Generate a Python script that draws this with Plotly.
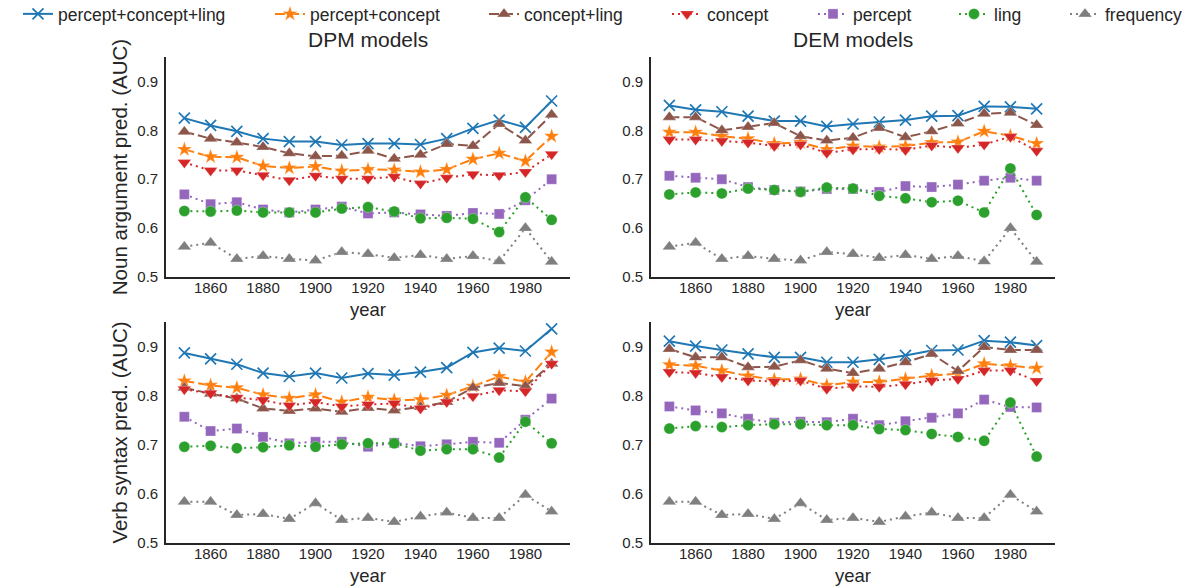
import plotly.graph_objects as go

years = list(range(1850, 2000, 10))

# ---- DPM models, noun argument prediction ----
dpm_noun_pcl = [0.825, 0.810, 0.798, 0.783, 0.777, 0.777, 0.770, 0.773, 0.773, 0.771, 0.783, 0.804, 0.821, 0.806, 0.860]
dpm_noun_pc = [0.761, 0.746, 0.745, 0.727, 0.723, 0.726, 0.717, 0.720, 0.719, 0.715, 0.720, 0.741, 0.753, 0.737, 0.788]
dpm_noun_cl = [0.797, 0.783, 0.775, 0.766, 0.753, 0.747, 0.748, 0.758, 0.742, 0.750, 0.772, 0.768, 0.813, 0.779, 0.832]
dpm_noun_concept = [0.734, 0.718, 0.718, 0.708, 0.698, 0.707, 0.701, 0.701, 0.705, 0.691, 0.703, 0.710, 0.708, 0.715, 0.751]
dpm_noun_percept = [0.669, 0.649, 0.653, 0.638, 0.632, 0.638, 0.644, 0.630, 0.632, 0.628, 0.625, 0.631, 0.629, 0.657, 0.700]
dpm_noun_ling = [0.635, 0.634, 0.636, 0.632, 0.632, 0.632, 0.640, 0.643, 0.634, 0.620, 0.621, 0.619, 0.592, 0.663, 0.617]

# ---- DEM models, noun argument prediction ----
dem_noun_pcl = [0.851, 0.842, 0.838, 0.829, 0.819, 0.819, 0.808, 0.813, 0.817, 0.821, 0.829, 0.830, 0.849, 0.848, 0.844]
dem_noun_pc = [0.796, 0.796, 0.788, 0.783, 0.773, 0.775, 0.761, 0.768, 0.766, 0.768, 0.775, 0.776, 0.798, 0.789, 0.773]
dem_noun_cl = [0.827, 0.827, 0.800, 0.807, 0.815, 0.788, 0.779, 0.785, 0.805, 0.786, 0.798, 0.814, 0.834, 0.836, 0.811]
dem_noun_concept = [0.781, 0.781, 0.778, 0.775, 0.768, 0.771, 0.754, 0.761, 0.762, 0.760, 0.769, 0.764, 0.771, 0.787, 0.758]
dem_noun_percept = [0.707, 0.703, 0.700, 0.684, 0.678, 0.675, 0.680, 0.680, 0.674, 0.686, 0.684, 0.689, 0.697, 0.703, 0.697]
dem_noun_ling = [0.669, 0.673, 0.671, 0.681, 0.678, 0.674, 0.683, 0.681, 0.666, 0.661, 0.653, 0.656, 0.632, 0.722, 0.627]

freq_noun = [0.562, 0.570, 0.537, 0.543, 0.537, 0.534, 0.551, 0.547, 0.539, 0.545, 0.537, 0.543, 0.532, 0.600, 0.531]

# ---- DPM models, verb syntax prediction ----
dpm_verb_pcl = [0.887, 0.875, 0.864, 0.846, 0.839, 0.846, 0.836, 0.845, 0.842, 0.848, 0.857, 0.888, 0.897, 0.891, 0.936]
dpm_verb_pc = [0.830, 0.821, 0.816, 0.802, 0.795, 0.802, 0.787, 0.797, 0.791, 0.792, 0.801, 0.819, 0.839, 0.828, 0.889]
dpm_verb_cl = [0.816, 0.804, 0.794, 0.774, 0.769, 0.774, 0.767, 0.775, 0.770, 0.777, 0.787, 0.816, 0.826, 0.819, 0.865]
dpm_verb_concept = [0.813, 0.805, 0.796, 0.791, 0.780, 0.787, 0.778, 0.782, 0.784, 0.774, 0.787, 0.799, 0.811, 0.809, 0.865]
dpm_verb_percept = [0.757, 0.728, 0.733, 0.716, 0.703, 0.706, 0.706, 0.696, 0.704, 0.697, 0.701, 0.706, 0.704, 0.751, 0.794]
dpm_verb_ling = [0.696, 0.698, 0.693, 0.695, 0.699, 0.696, 0.701, 0.703, 0.703, 0.688, 0.691, 0.691, 0.674, 0.747, 0.703]

# ---- DEM models, verb syntax prediction ----
dem_verb_pcl = [0.911, 0.901, 0.893, 0.885, 0.878, 0.878, 0.868, 0.868, 0.874, 0.882, 0.892, 0.893, 0.912, 0.909, 0.902]
dem_verb_pc = [0.863, 0.861, 0.851, 0.840, 0.833, 0.834, 0.821, 0.828, 0.828, 0.834, 0.841, 0.845, 0.865, 0.861, 0.856]
dem_verb_cl = [0.895, 0.878, 0.878, 0.858, 0.859, 0.872, 0.855, 0.846, 0.855, 0.868, 0.885, 0.850, 0.899, 0.893, 0.893]
dem_verb_concept = [0.848, 0.846, 0.838, 0.831, 0.829, 0.831, 0.814, 0.819, 0.818, 0.823, 0.831, 0.834, 0.851, 0.851, 0.830]
dem_verb_percept = [0.778, 0.770, 0.764, 0.753, 0.745, 0.747, 0.746, 0.753, 0.740, 0.748, 0.755, 0.764, 0.792, 0.777, 0.776]
dem_verb_ling = [0.733, 0.738, 0.736, 0.740, 0.742, 0.742, 0.740, 0.740, 0.732, 0.730, 0.722, 0.716, 0.708, 0.786, 0.676]

freq_verb = [0.584, 0.584, 0.557, 0.559, 0.549, 0.581, 0.547, 0.551, 0.543, 0.554, 0.562, 0.551, 0.551, 0.598, 0.564]

series_names = ["percept+concept+ling", "percept+concept", "concept+ling", "concept", "percept", "ling", "frequency"]
x_ticks = [1860, 1880, 1900, 1920, 1940, 1960, 1980]
y_ticks = [0.5, 0.6, 0.7, 0.8, 0.9]
panel_titles = ["DPM models", "DEM models"]
row_labels = ["Noun argument pred. (AUC)", "Verb syntax pred. (AUC)"]

panels = [
    ("x", "y", [dpm_noun_pcl, dpm_noun_pc, dpm_noun_cl, dpm_noun_concept, dpm_noun_percept, dpm_noun_ling, freq_noun]),
    ("x2", "y2", [dem_noun_pcl, dem_noun_pc, dem_noun_cl, dem_noun_concept, dem_noun_percept, dem_noun_ling, freq_noun]),
    ("x3", "y3", [dpm_verb_pcl, dpm_verb_pc, dpm_verb_cl, dpm_verb_concept, dpm_verb_percept, dpm_verb_ling, freq_verb]),
    ("x4", "y4", [dem_verb_pcl, dem_verb_pc, dem_verb_cl, dem_verb_concept, dem_verb_percept, dem_verb_ling, freq_verb]),
]

styles = [
    dict(color="#1f77b4", dash="solid", symbol="x-thin", size=11),
    dict(color="#ff7f0e", dash="10px,4px", symbol="star", size=11.5),
    dict(color="#8c564b", dash="10px,4px", symbol="triangle-up", size=12),
    dict(color="#d62728", dash="2px,4px", symbol="triangle-down", size=12),
    dict(color="#9467bd", dash="2px,4px", symbol="square", size=10),
    dict(color="#2ca02c", dash="2px,4px", symbol="circle", size=11),
    dict(color="#7f7f7f", dash="2px,4px", symbol="triangle-up", size=12),
]

# left edge (px) of each legend entry's text in the reference
legend_text_x = [58, 310, 524, 707, 853, 994, 1105]

FONT = "Liberation Sans, Arial, sans-serif"
TXT = "#262626"

W, H = 1193, 588


def px_x(v):
    return v / W


def px_y(v):
    return 1 - v / H


fig = go.Figure()
for p_i, (xa, ya, data) in enumerate(panels):
    for k, (name, vals, st) in enumerate(zip(series_names, data, styles)):
        if st["symbol"] == "x-thin":
            marker = dict(symbol="x-thin", size=st["size"], color=st["color"],
                          line=dict(color=st["color"], width=1.7))
        else:
            marker = dict(symbol=st["symbol"], size=st["size"], color=st["color"],
                          line=dict(color="rgba(255,255,255,0.6)", width=0.5))
        fig.add_trace(go.Scatter(
            x=years, y=vals, name=name, legendgroup=name, showlegend=(p_i == 0),
            legend="legend" if k == 0 else "legend%d" % (k + 1),
            mode="lines+markers", xaxis=xa, yaxis=ya,
            line=dict(color=st["color"], width=2, dash=st["dash"]),
            marker=marker,
        ))

xdom = [[px_x(166), px_x(570)], [px_x(651), px_x(1055)]]
ydom = [[px_y(277), px_y(57)], [px_y(543), px_y(322)]]

axis_common = dict(showgrid=False, zeroline=False, showline=True, linecolor="#262626",
                   linewidth=1.6, ticks="", ticklen=0, tickfont=dict(size=15, color=TXT, family=FONT))

layout = dict(
    width=W, height=H, plot_bgcolor="white", paper_bgcolor="white",
    margin=dict(l=0, r=0, t=0, b=0, autoexpand=False),
    font=dict(family=FONT, color=TXT),
    showlegend=True,
)

for k, tx in enumerate(legend_text_x):
    key = "legend" if k == 0 else "legend%d" % (k + 1)
    layout[key] = dict(orientation="h", x=px_x(tx - 40), xanchor="left", y=px_y(14), yanchor="middle",
                       font=dict(size=17.5, color=TXT, family=FONT), bgcolor="rgba(0,0,0,0)",
                       itemwidth=30, tracegroupgap=0)

ax_ids = ["", "2", "3", "4"]
for i, aid in enumerate(ax_ids):
    r, c = divmod(i, 2)
    layout["xaxis" + aid] = dict(axis_common, domain=xdom[c], anchor="y" + aid,
                                 range=[1843, 1997], tickvals=x_ticks, ticklabelstandoff=-4,
                                 title=dict(text="year", font=dict(size=18.5, color=TXT, family=FONT), standoff=8))
    ycfg = dict(axis_common, domain=ydom[r], anchor="x" + aid, range=[0.5, 0.95],
                tickvals=y_ticks, tickformat=".1f", ticklabelstandoff=3)
    if c == 0:
        ycfg["title"] = dict(text=row_labels[r], font=dict(size=20.5, color=TXT, family=FONT), standoff=4)
    layout["yaxis" + aid] = ycfg

fig.update_layout(**layout)

for c, t in enumerate(panel_titles):
    fig.add_annotation(text=t, x=(xdom[c][0] + xdom[c][1]) / 2, y=px_y(40),
                       xref="paper", yref="paper", showarrow=False, xanchor="center", yanchor="middle",
                       font=dict(size=21, color=TXT, family=FONT))

fig.write_html("out.html", config={"displayModeBar": False},
               post_script="document.body.style.margin='0';")
